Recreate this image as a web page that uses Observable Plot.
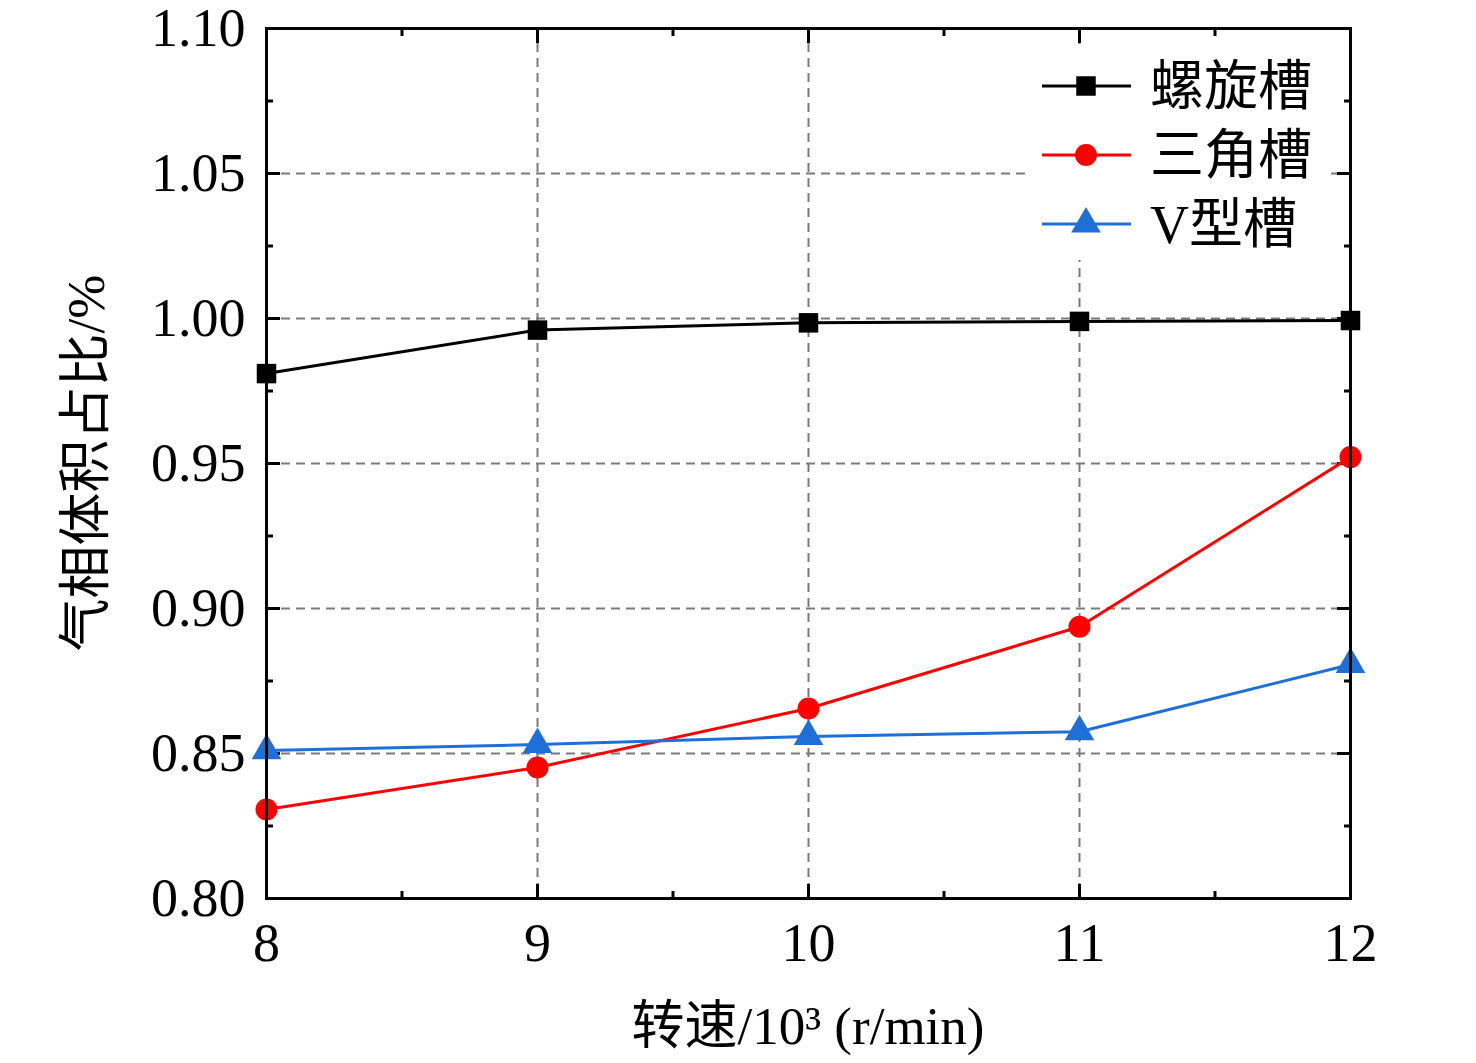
<!DOCTYPE html>
<html>
<head>
<meta charset="utf-8">
<script src="https://cdn.jsdelivr.net/npm/d3@7"></script>
<script src="https://cdn.jsdelivr.net/npm/@observablehq/plot@0.6"></script>
<style>
  html, body { margin: 0; padding: 0; background: #fff; }
  #chart svg { display: block; }
</style>
</head>
<body>
<div id="chart"></div>
<script>
// ---- data ----
const speeds = [8, 9, 10, 11, 12];
const seriesNames = ["螺旋槽", "三角槽", "V型槽"];
const spiral = [0.981, 0.996, 0.9985, 0.999, 0.9993];
const triangle = [0.8307, 0.8452, 0.8655, 0.8937, 0.9522];
const vgroove = [0.8510, 0.8531, 0.8559, 0.8575, 0.8807];
const seriesColors = ["#000000", "#ff0000", "#1f6fd8"];
const seriesSymbols = ["square", "circle", "triangle"];
const xTicks = [8, 9, 10, 11, 12];
const xMinor = [8.5, 9.5, 10.5, 11.5];
const yTicks = [0.80, 0.85, 0.90, 0.95, 1.00, 1.05, 1.10];
const yMinor = [0.825, 0.875, 0.925, 0.975, 1.025, 1.075];
const xLabel = "转速/10³ (r/min)";
const yLabel = "气相体积占比/%";

const values = [spiral, triangle, vgroove];
const rows = [];
seriesNames.forEach((name, i) => {
  speeds.forEach((s, j) => rows.push({series: name, speed: s, value: values[i][j]}));
});

const font = "'Liberation Serif', 'Times New Roman', 'Noto Sans CJK SC', serif";
const grid = {stroke: "#7a7a7a", strokeOpacity: 1, strokeWidth: 2, strokeDasharray: "9,6"};

const marks = [
  Plot.gridX([9, 10, 11], grid),
  Plot.gridY([0.85, 0.90, 0.95, 1.00, 1.05], grid),
  // left axis
  Plot.axisY(yTicks, {anchor: "left", tickSize: -14, strokeWidth: 3, tickPadding: 35, tickFormat: d3.format(".2f"), fontSize: 54, label: null}),
  Plot.axisY(yMinor, {anchor: "left", tickSize: -7, strokeWidth: 3, tickFormat: () => "", label: null}),
  // right axis
  Plot.axisY(yTicks, {anchor: "right", tickSize: -14, strokeWidth: 3, tickFormat: () => "", label: null}),
  Plot.axisY(yMinor, {anchor: "right", tickSize: -7, strokeWidth: 3, tickFormat: () => "", label: null}),
  // bottom axis
  Plot.axisX(xTicks, {anchor: "bottom", tickSize: -14, strokeWidth: 3, tickPadding: 38, tickFormat: d => String(d), fontSize: 54, label: null}),
  Plot.axisX(xMinor, {anchor: "bottom", tickSize: -7, strokeWidth: 3, tickFormat: () => "", label: null}),
  // top axis
  Plot.axisX(xTicks, {anchor: "top", tickSize: -14, strokeWidth: 3, tickFormat: () => "", label: null}),
  Plot.axisX(xMinor, {anchor: "top", tickSize: -7, strokeWidth: 3, tickFormat: () => "", label: null}),
  Plot.line(rows, {x: "speed", y: "value", z: "series", stroke: "series", strokeWidth: 3}),
  Plot.dot(rows, {x: "speed", y: "value", fill: "series", symbol: "series", r: 11, stroke: null}),
  Plot.frame({stroke: "#000", strokeWidth: 3})
];

const chart = Plot.plot({
  width: 1476,
  height: 1063,
  marginLeft: 266,
  marginRight: 126,
  marginTop: 28,
  marginBottom: 165,
  style: {fontFamily: font, background: "#fff", color: "#000", overflow: "visible"},
  x: {domain: [8, 12], axis: null},
  y: {domain: [0.80, 1.10], axis: null},
  color: {domain: seriesNames, range: seriesColors},
  symbol: {domain: seriesNames, range: seriesSymbols},
  marks
});

document.getElementById("chart").appendChild(chart);

// ---- axis titles and legend (drawn with d3 on top of the plot svg) ----
const svg = d3.select(chart);
const W = 1476, H = 1063, mL = 266, mR = 126, mT = 28, mB = 165;
const plotCx = mL + (W - mL - mR) / 2;
const plotCy = mT + (H - mT - mB) / 2;

svg.append("text")
  .attr("x", plotCx).attr("y", 1044)
  .attr("text-anchor", "middle")
  .attr("font-family", font).attr("font-size", 53).attr("fill", "#000")
  .text(xLabel);

svg.append("text")
  .attr("transform", `translate(104,${plotCy}) rotate(-90)`)
  .attr("text-anchor", "middle")
  .attr("font-family", font).attr("font-size", 53).attr("fill", "#000")
  .text(yLabel);

// legend
const lg = svg.append("g");
lg.append("rect").attr("x", 1026).attr("y", 44).attr("width", 304).attr("height", 216).attr("fill", "#fff");
const symbolGen = {square: d3.symbolSquare, circle: d3.symbolCircle, triangle: d3.symbolTriangle};
seriesNames.forEach((name, i) => {
  const cy = 86 + i * 69;
  lg.append("line").attr("x1", 1042).attr("x2", 1131).attr("y1", cy).attr("y2", cy)
    .attr("stroke", seriesColors[i]).attr("stroke-width", 3);
  lg.append("path").attr("transform", `translate(1086,${cy})`)
    .attr("d", d3.symbol(symbolGen[seriesSymbols[i]], Math.PI * 121)())
    .attr("fill", seriesColors[i]);
  lg.append("text").attr("x", 1150).attr("y", cy).attr("dy", "0.36em")
    .attr("text-anchor", "start")
    .attr("font-family", font).attr("font-size", 54).attr("fill", "#000")
    .text(name);
});
</script>
</body>
</html>
